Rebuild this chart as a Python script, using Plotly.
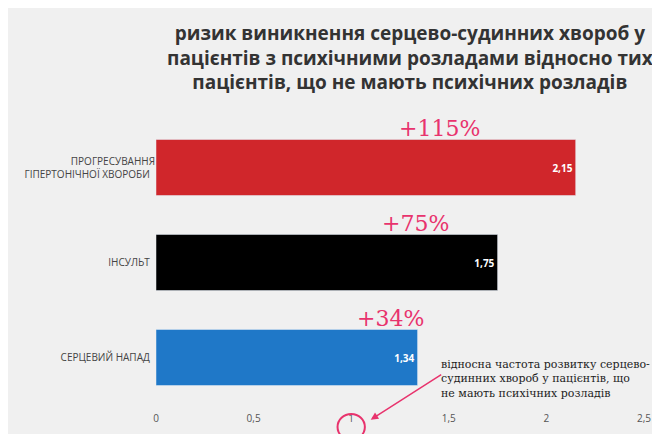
import plotly.graph_objects as go

categories = ["ПРОГРЕСУВАННЯ<br>ГІПЕРТОНІЧНОЇ ХВОРОБИ", "ІНСУЛЬТ", "СЕРЦЕВИЙ НАПАД"]
values = [2.15, 1.75, 1.34]
value_labels = ["2,15", "1,75", "1,34"]
increase_labels = ["+115%", "+75%", "+34%"]
increase_x = [1.45, 1.33, 1.2]
colors = ["#d0262b", "#000000", "#1f78c8"]
tick_vals = [0, 0.5, 1, 1.5, 2, 2.5]
tick_text = ["0", "0,5", "1", "1,5", "2", "2,5"]

fig = go.Figure(go.Bar(
    y=categories, x=values, orientation="h", marker_color=colors,
    text=["<b>%s</b>" % t for t in value_labels], textposition="inside", insidetextanchor="end",
    textfont=dict(color="white", size=10, family="Open Sans"),
))
for c, xx, t in zip(categories, increase_x, increase_labels):
    fig.add_annotation(x=xx, y=c, yshift=39, text=t, showarrow=False,
                       font=dict(family="DejaVu Serif", size=22, color="#e8336d"))

fig.add_shape(type="circle", xref="x", yref="paper", x0=0.93, x1=1.07, y0=-0.10, y1=-0.01,
              line=dict(color="#e8336d", width=2))
fig.add_annotation(x=1.1, y=-0.03, xref="x", yref="paper", ax=72, ay=-46, showarrow=True,
                   arrowhead=2, arrowcolor="#e8336d", arrowwidth=1.5, text="")
fig.add_annotation(x=1.45, y=0.03, xref="x", yref="paper", xanchor="left", yanchor="bottom",
                   showarrow=False, align="left",
                   text="відносна частота розвитку серцево-<br>судинних хвороб у пацієнтів, що<br>не мають психічних розладів",
                   font=dict(family="DejaVu Serif", size=11, color="#222"))
fig.add_annotation(x=0.52, y=1.0, xref="paper", yref="paper", yshift=102, yanchor="top",
                   showarrow=False,
                   text="<b>ризик виникнення серцево-судинних хвороб у<br>пацієнтів з психічними розладами відносно тих<br>пацієнтів, що не мають психічних розладів</b>",
                   font=dict(family="Open Sans", size=19, color="#333"))

fig.update_layout(
    width=660, height=434, margin=dict(l=148, r=24, t=112, b=31, autoexpand=False),
    paper_bgcolor="#f0f0f0", plot_bgcolor="#f0f0f0", separators=", ",
    bargap=0.41, showlegend=False,
    xaxis=dict(range=[0, 2.5], tickvals=tick_vals, ticktext=tick_text, showgrid=False,
               zeroline=False, automargin=False, tickfont=dict(size=10, color="#555", family="Open Sans")),
    yaxis=dict(autorange="reversed", showgrid=False, ticksuffix="  ", automargin=False,
               tickfont=dict(size=10, color="#444", family="Open Sans")),
)
fig.write_html("out.html")
